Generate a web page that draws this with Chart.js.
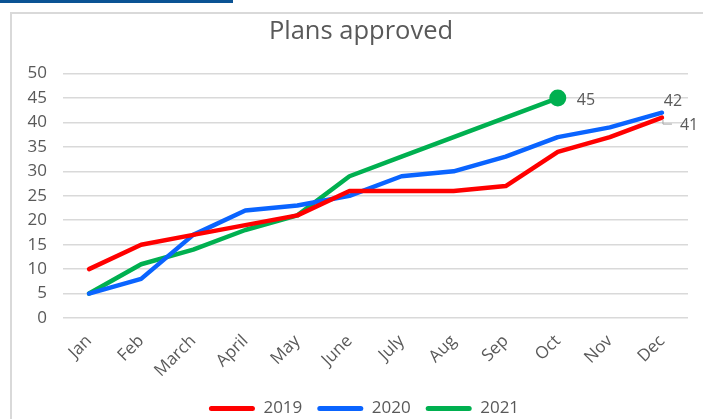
<!DOCTYPE html>
<html>
<head>
<meta charset="utf-8">
<script src="https://cdn.jsdelivr.net/npm/chart.js@4/dist/chart.umd.min.js"></script>
<style>
  html, body { margin: 0; padding: 0; background: #ffffff; overflow: hidden; width: 703px; height: 419px; }
  #topbar { position: absolute; left: 0; top: 0; width: 233px; height: 3px; background: #0b5394; }
  #frame { position: absolute; left: 10px; top: 12px; width: 760px; height: 460px; border: 2px solid #d9d9d9; box-sizing: border-box; }
  #wrap { position: absolute; left: 0; top: 0; width: 722px; height: 427px; }
</style>
</head>
<body>
<div id="topbar"></div>
<div id="frame"></div>
<div id="wrap"><canvas id="c" width="722" height="427"></canvas></div>
<script>
const titleText = 'Plans approved';
const months = ['Jan', 'Feb', 'March', 'April', 'May', 'June', 'July', 'Aug', 'Sep', 'Oct', 'Nov', 'Dec'];
const seriesNames = ['2019', '2020', '2021'];
const values2019 = [10, 15, 17, 19, 21, 26, 26, 26, 27, 34, 37, 41];
const values2020 = [5, 8, 17, 22, 23, 25, 29, 30, 33, 37, 39, 42];
const values2021 = [5, 11, 14, 18, 21, 29, 33, 37, 41, 45];
const yTicks = [0, 5, 10, 15, 20, 25, 30, 35, 40, 45, 50];

const colors = ['#ff0000', '#0a64ff', '#00b050'];
const textColor = '#595959';
const fontFamily = "'Open Sans', 'Noto Sans', sans-serif";

function lastIndexRadius(arr, r) {
  return arr.map((v, i) => (i === arr.length - 1 ? r : 0));
}

// Centre title and legend over the whole (clipped) chart frame rather than the padded box
const shiftPlugin = {
  id: 'shiftBoxes',
  afterLayout(chart) {
    const t = chart.titleBlock;
    if (t) { t.left += 17; t.right += 17; }
    const l = chart.legend;
    if (l) { l.left += 20; l.right += 20; }
  }
};

// Data labels for the last point of each series
const labelPlugin = {
  id: 'endLabels',
  afterDatasetsDraw(chart) {
    const ctx = chart.ctx;
    ctx.save();
    ctx.font = '16px ' + fontFamily;
    ctx.fillStyle = textColor;
    ctx.textBaseline = 'middle';
    const m2 = chart.getDatasetMeta(2);
    const p2 = m2.data[values2021.length - 1];
    ctx.textAlign = 'left';
    ctx.fillText(String(values2021[values2021.length - 1]), p2.x + 19, p2.y + 2);
    const m1 = chart.getDatasetMeta(1);
    const p1 = m1.data[values2020.length - 1];
    ctx.textAlign = 'center';
    ctx.fillText(String(values2020[values2020.length - 1]), p1.x + 11, p1.y - 11);
    const m0 = chart.getDatasetMeta(0);
    const p0 = m0.data[values2019.length - 1];
    ctx.textAlign = 'left';
    ctx.fillText(String(values2019[values2019.length - 1]), p0.x + 18, p0.y + 8);
    ctx.strokeStyle = '#a6a6a6';
    ctx.lineWidth = 1;
    ctx.beginPath();
    ctx.moveTo(p0.x + 1, p0.y + 2);
    ctx.lineTo(p0.x + 1, p0.y + 6.5);
    ctx.lineTo(p0.x + 10, p0.y + 6.5);
    ctx.stroke();
    ctx.restore();
  }
};

const datasets = [values2019, values2020, values2021].map((vals, i) => ({
  label: seriesNames[i],
  data: vals,
  borderColor: colors[i],
  backgroundColor: colors[i],
  borderWidth: 4.5,
  borderJoinStyle: 'round',
  borderCapStyle: 'round',
  pointRadius: i === 2 ? lastIndexRadius(vals, 8.5) : 0,
  pointHoverRadius: 0,
  pointBorderWidth: 0,
  tension: 0,
  fill: false
}));

new Chart(document.getElementById('c'), {
  type: 'line',
  data: { labels: months, datasets: datasets },
  plugins: [shiftPlugin, labelPlugin],
  options: {
    responsive: false,
    animation: false,
    events: [],
    layout: { padding: { left: 0, right: 34, top: 0, bottom: 0 } },
    plugins: {
      title: {
        display: true,
        text: titleText,
        color: textColor,
        font: { family: fontFamily, size: 25.5, weight: 'normal' },
        padding: { top: 16, bottom: 27 }
      },
      legend: {
        display: true,
        position: 'bottom',
        labels: {
          color: textColor,
          font: { family: fontFamily, size: 17 },
          boxWidth: 46,
          boxHeight: 5,
          padding: 15,
          generateLabels(chart) {
            return chart.data.datasets.map((d, i) => ({
              text: d.label,
              fillStyle: d.borderColor,
              strokeStyle: d.borderColor,
              lineWidth: 0,
              hidden: false,
              datasetIndex: i,
              fontColor: textColor,
              borderRadius: 2.5
            }));
          },
          useBorderRadius: true
        }
      },
      tooltip: { enabled: false }
    },
    scales: {
      x: {
        offset: true,
        grid: { display: false, drawTicks: false },
        border: { display: false },
        ticks: {
          color: textColor,
          font: { family: fontFamily, size: 17 },
          minRotation: 45,
          maxRotation: 45,
          padding: 13,
          autoSkip: false
        },
        afterFit(scale) { scale.height = 67; }
      },
      y: {
        min: yTicks[0],
        max: yTicks[yTicks.length - 1],
        grid: { color: '#d9d9d9', lineWidth: 1.5, drawTicks: false },
        border: { display: false },
        ticks: {
          stepSize: yTicks[1] - yTicks[0],
          color: textColor,
          font: { family: fontFamily, size: 17 },
          padding: 16
        },
        afterFit(scale) { scale.width = 63; }
      }
    }
  }
});
</script>
</body>
</html>
